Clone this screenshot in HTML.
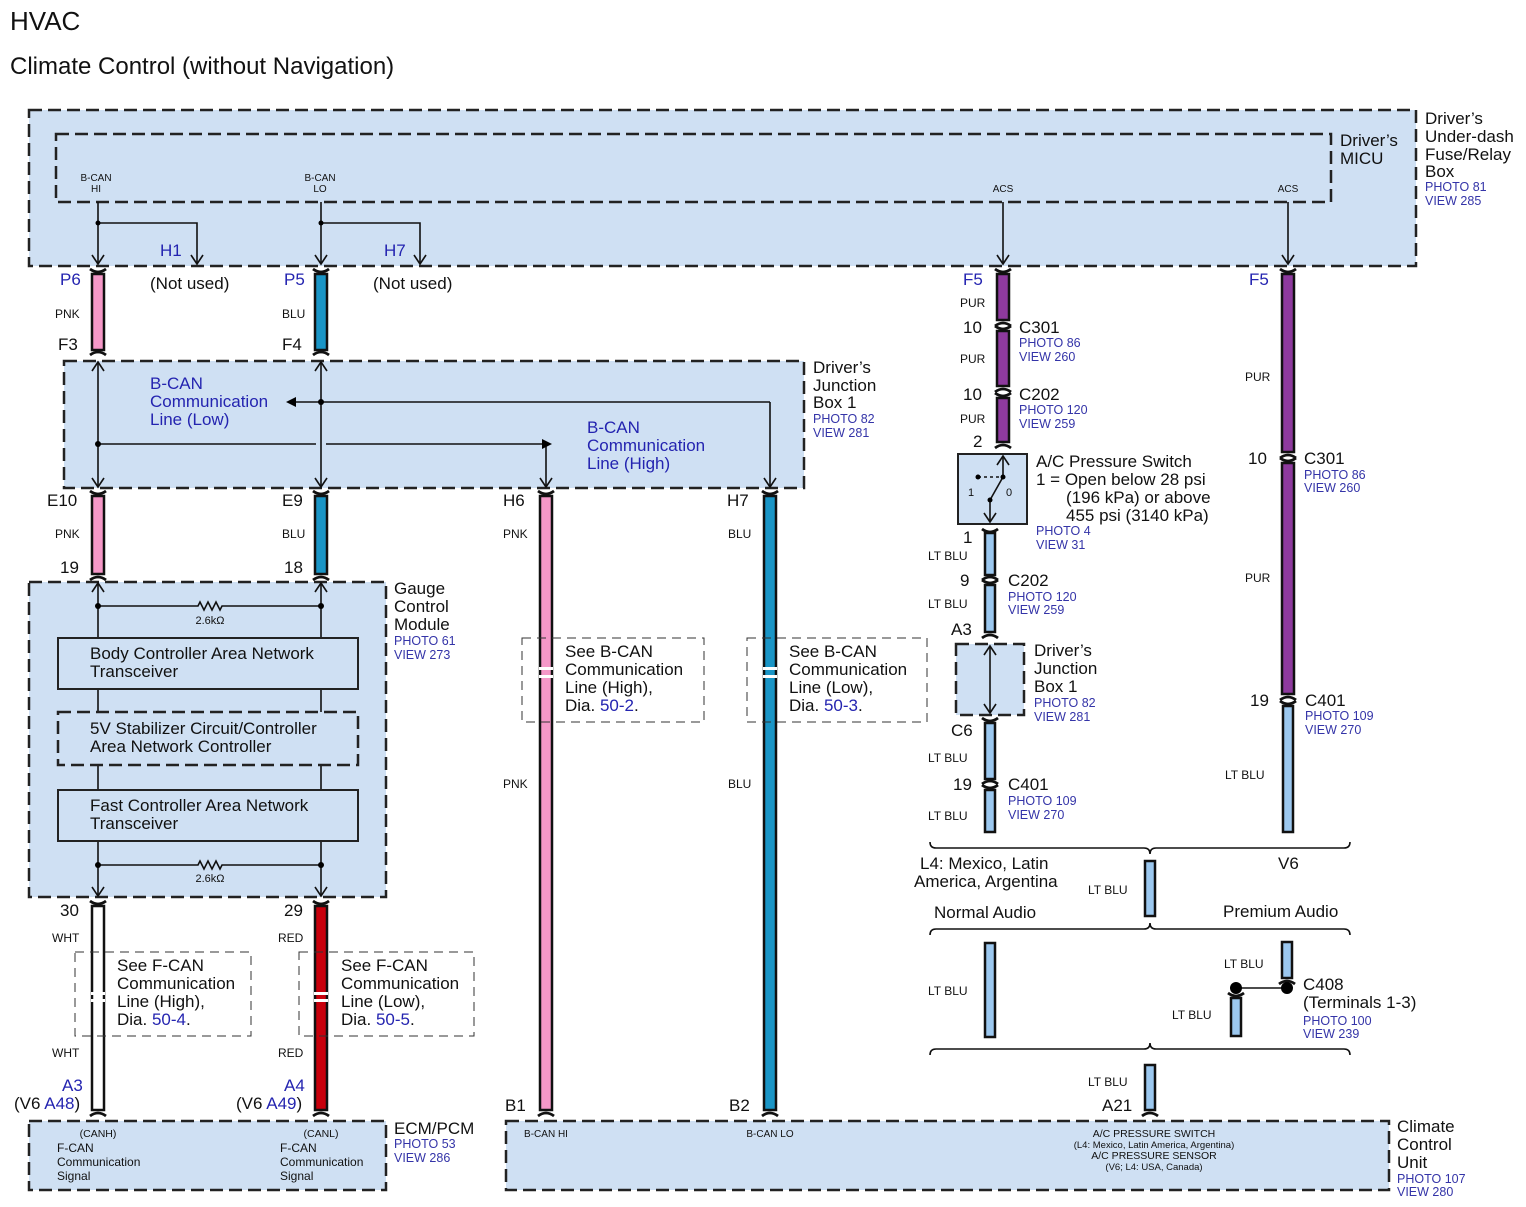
<!DOCTYPE html>
<html><head><meta charset="utf-8"><style>
html,body{margin:0;padding:0;background:#fff}
svg{display:block}
text{font-family:"Liberation Sans",sans-serif;fill:#111}
.b{fill:#2424b0}.p{fill:#3434a8;font-size:12.5px}
.s{font-size:12px}.m{font-size:17px}.t{font-size:10.5px}
.box{fill:#cfe0f3;stroke:#222;stroke-width:2.5;stroke-dasharray:13,6}
.sb{fill:none;stroke:#333;stroke-width:1;stroke-dasharray:9,6}
.ln{stroke:#111;stroke-width:1.6;fill:none}
.w{stroke:#111;stroke-width:2.5}
.cap{fill:none;stroke:#111;stroke-width:2.8}
</style></head><body>
<svg width="1526" height="1207" viewBox="0 0 1526 1207" xmlns="http://www.w3.org/2000/svg">
<defs>
<path id="ct" d="M-8,-3 Q0,3 8,-3" class="cap"/>
<path id="cb" d="M-8,3 Q0,-3 8,3" class="cap"/>
<path id="ad" d="M-6,-9 L0,0 L6,-9" class="ln"/>
<path id="au" d="M-6,9 L0,0 L6,9" class="ln"/>
</defs>
<text x="10" y="30" style="font-size:26px">HVAC</text>
<text x="10" y="74" style="font-size:24px">Climate Control (without Navigation)</text>

<!-- top boxes -->
<rect class="box" x="29" y="110" width="1387" height="156"/>
<rect class="box" x="56" y="134" width="1275" height="68"/>
<text class="t" x="96" y="181" text-anchor="middle" style="font-size:10px">B-CAN</text>
<text class="t" x="96" y="192" text-anchor="middle" style="font-size:10px">HI</text>
<text class="t" x="320" y="181" text-anchor="middle" style="font-size:10px">B-CAN</text>
<text class="t" x="320" y="192" text-anchor="middle" style="font-size:10px">LO</text>
<text class="t" x="1003" y="192" text-anchor="middle" style="font-size:10px">ACS</text>
<text class="t" x="1288" y="192" text-anchor="middle" style="font-size:10px">ACS</text>
<text class="m" x="1340" y="146">Driver’s</text><text class="m" x="1340" y="164">MICU</text>
<text class="m" x="1425" y="124">Driver’s</text><text class="m" x="1425" y="142">Under-dash</text>
<text class="m" x="1425" y="160">Fuse/Relay</text><text class="m" x="1425" y="177">Box</text>
<text class="p" x="1425" y="191">PHOTO 81</text><text class="p" x="1425" y="205">VIEW 285</text>

<path class="ln" d="M98,202V264 M98,223H197V264 M321,202V264 M321,223H420V264 M1003,202V264 M1288,202V264"/>
<circle cx="98" cy="223" r="2.5"/><circle cx="321" cy="223" r="2.5"/>
<use href="#ad" x="98" y="264"/><use href="#ad" x="197" y="264"/><use href="#ad" x="321" y="264"/><use href="#ad" x="420" y="264"/><use href="#ad" x="1003" y="264"/><use href="#ad" x="1288" y="264"/>
<text class="m b" x="160" y="256">H1</text><text class="m b" x="384" y="256">H7</text>

<!-- P6/P5 -->
<rect class="w" x="92" y="274" width="12" height="76" fill="#f598c8"/>
<rect class="w" x="315" y="274" width="12" height="76" fill="#1a95c6"/>
<use href="#ct" x="98" y="272"/><use href="#cb" x="98" y="352"/>
<use href="#ct" x="321" y="272"/><use href="#cb" x="321" y="352"/>
<text class="m b" x="60" y="285">P6</text><text class="m b" x="284" y="285">P5</text>
<text class="m" x="150" y="289">(Not used)</text><text class="m" x="373" y="289">(Not used)</text>
<text class="s" x="55" y="318">PNK</text><text class="s" x="282" y="318">BLU</text>
<text class="m" x="58" y="350">F3</text><text class="m" x="282" y="350">F4</text>

<!-- JB1 -->
<rect class="box" x="64" y="361" width="740" height="127"/>
<text class="m" x="813" y="373">Driver’s</text><text class="m" x="813" y="391">Junction</text><text class="m" x="813" y="408">Box 1</text>
<text class="p" x="813" y="423">PHOTO 82</text><text class="p" x="813" y="437">VIEW 281</text>
<path class="ln" d="M98,362V487 M321,362V487 M98,444H316 M326,444H546V487 M770,402H290 M770,402V487"/>
<use href="#au" x="98" y="362"/><use href="#ad" x="98" y="487"/><use href="#au" x="321" y="362"/><use href="#ad" x="321" y="487"/>
<use href="#ad" x="546" y="487"/><use href="#ad" x="770" y="487"/>
<path d="M552,444 L542,439 L542,449Z"/><path d="M286,402 L296,397 L296,407Z"/>
<circle cx="98" cy="444" r="3"/><circle cx="321" cy="402" r="3"/>
<text class="m b" x="150" y="389">B-CAN</text><text class="m b" x="150" y="407">Communication</text><text class="m b" x="150" y="425">Line (Low)</text>
<text class="m b" x="587" y="433">B-CAN</text><text class="m b" x="587" y="451">Communication</text><text class="m b" x="587" y="469">Line (High)</text>

<!-- E10/E9 -->
<rect class="w" x="92" y="496" width="12" height="78" fill="#f598c8"/>
<rect class="w" x="315" y="496" width="12" height="78" fill="#1a95c6"/>
<use href="#ct" x="98" y="494"/><use href="#cb" x="98" y="577"/><use href="#ct" x="321" y="494"/><use href="#cb" x="321" y="577"/>
<text class="m" x="47" y="506">E10</text><text class="m" x="282" y="506">E9</text>
<text class="s" x="55" y="538">PNK</text><text class="s" x="282" y="538">BLU</text>
<text class="m" x="60" y="573">19</text><text class="m" x="284" y="573">18</text>

<!-- H6/H7 long wires -->
<rect class="w" x="540" y="496" width="12" height="614" fill="#f598c8"/>
<rect class="w" x="764" y="496" width="12" height="614" fill="#1a95c6"/>
<use href="#ct" x="546" y="494"/><use href="#cb" x="546" y="1113"/><use href="#ct" x="770" y="494"/><use href="#cb" x="770" y="1113"/>
<rect x="539" y="667" width="14" height="3" fill="#fff"/><rect x="539" y="675" width="14" height="3" fill="#fff"/>
<rect x="763" y="667" width="14" height="3" fill="#fff"/><rect x="763" y="675" width="14" height="3" fill="#fff"/>
<text class="m" x="503" y="506">H6</text><text class="m" x="727" y="506">H7</text>
<text class="s" x="503" y="538">PNK</text><text class="s" x="728" y="538">BLU</text>
<text class="s" x="503" y="788">PNK</text><text class="s" x="728" y="788">BLU</text>
<rect class="sb" x="522" y="638" width="182" height="84"/><rect class="sb" x="747" y="638" width="180" height="84"/>
<text class="m" x="565" y="657">See B-CAN</text><text class="m" x="565" y="675">Communication</text><text class="m" x="565" y="693">Line (High),</text><text class="m" x="565" y="711">Dia.  <tspan class="b">50-2</tspan>.</text>
<text class="m" x="789" y="657">See B-CAN</text><text class="m" x="789" y="675">Communication</text><text class="m" x="789" y="693">Line (Low),</text><text class="m" x="789" y="711">Dia.  <tspan class="b">50-3</tspan>.</text>
<text class="m" x="505" y="1111">B1</text><text class="m" x="729" y="1111">B2</text>

<!-- Gauge -->
<rect class="box" x="29" y="582" width="357" height="315"/>
<text class="m" x="394" y="594">Gauge</text><text class="m" x="394" y="612">Control</text><text class="m" x="394" y="630">Module</text>
<text class="p" x="394" y="645">PHOTO 61</text><text class="p" x="394" y="659">VIEW 273</text>
<path class="ln" d="M98,583V638 M321,583V638 M98,689V712 M321,689V712 M98,765V790 M321,765V790 M98,841V896 M321,841V896"/>
<use href="#au" x="98" y="583"/><use href="#au" x="321" y="583"/><use href="#ad" x="98" y="896"/><use href="#ad" x="321" y="896"/>
<path class="ln" d="M98,606H198 l2,-4 l4,8 l4,-8 l4,8 l4,-8 l4,8 l2,-4 H321 M98,865H198 l2,-4 l4,8 l4,-8 l4,8 l4,-8 l4,8 l2,-4 H321"/>
<circle cx="98" cy="606" r="3"/><circle cx="321" cy="606" r="3"/><circle cx="98" cy="865" r="3"/><circle cx="321" cy="865" r="3"/>
<text x="210" y="624" text-anchor="middle" style="font-size:11px">2.6kΩ</text><text x="210" y="882" text-anchor="middle" style="font-size:11px">2.6kΩ</text>
<rect x="58" y="638" width="300" height="51" fill="#cfe0f3" stroke="#222" stroke-width="2"/>
<rect x="58" y="712" width="300" height="53" fill="#cfe0f3" stroke="#222" stroke-width="2.5" stroke-dasharray="13,6"/>
<rect x="58" y="790" width="300" height="51" fill="#cfe0f3" stroke="#222" stroke-width="2"/>
<text class="m" x="90" y="659">Body Controller Area Network</text><text class="m" x="90" y="677">Transceiver</text>
<text class="m" x="90" y="734">5V Stabilizer Circuit/Controller</text><text class="m" x="90" y="752">Area Network Controller</text>
<text class="m" x="90" y="811">Fast Controller Area Network</text><text class="m" x="90" y="829">Transceiver</text>

<!-- 30/29 -->
<rect class="w" x="92" y="906" width="12" height="204" fill="#fff"/>
<rect class="w" x="315" y="906" width="12" height="204" fill="#c8000c"/>
<use href="#ct" x="98" y="904"/><use href="#cb" x="98" y="1113"/><use href="#ct" x="321" y="904"/><use href="#cb" x="321" y="1113"/>
<rect x="91" y="992" width="14" height="3" fill="#fff"/><rect x="91" y="999" width="14" height="3" fill="#fff"/>
<rect x="314" y="992" width="14" height="3" fill="#fff"/><rect x="314" y="999" width="14" height="3" fill="#fff"/>
<text class="m" x="60" y="916">30</text><text class="m" x="284" y="916">29</text>
<text class="s" x="52" y="942">WHT</text><text class="s" x="52" y="1057">WHT</text>
<text class="s" x="278" y="942">RED</text><text class="s" x="278" y="1057">RED</text>
<rect class="sb" x="75" y="952" width="176" height="84"/><rect class="sb" x="299" y="952" width="175" height="84"/>
<text class="m" x="117" y="971">See F-CAN</text><text class="m" x="117" y="989">Communication</text><text class="m" x="117" y="1007">Line (High),</text><text class="m" x="117" y="1025">Dia.  <tspan class="b">50-4</tspan>.</text>
<text class="m" x="341" y="971">See F-CAN</text><text class="m" x="341" y="989">Communication</text><text class="m" x="341" y="1007">Line (Low),</text><text class="m" x="341" y="1025">Dia.  <tspan class="b">50-5</tspan>.</text>
<text class="m b" x="62" y="1091">A3</text><text class="m" x="14" y="1109">(V6 <tspan class="b">A48</tspan>)</text>
<text class="m b" x="284" y="1091">A4</text><text class="m" x="236" y="1109">(V6 <tspan class="b">A49</tspan>)</text>

<!-- ECM -->
<rect class="box" x="29" y="1121" width="357" height="69"/>
<text class="t" x="98" y="1137" text-anchor="middle">(CANH)</text>
<text class="s" x="57" y="1152">F-CAN</text><text class="s" x="57" y="1166">Communication</text><text class="s" x="57" y="1180">Signal</text>
<text class="t" x="321" y="1137" text-anchor="middle">(CANL)</text>
<text class="s" x="280" y="1152">F-CAN</text><text class="s" x="280" y="1166">Communication</text><text class="s" x="280" y="1180">Signal</text>
<text class="m" x="394" y="1134">ECM/PCM</text><text class="p" x="394" y="1148">PHOTO 53</text><text class="p" x="394" y="1162">VIEW 286</text>

<!-- CCU -->
<rect class="box" x="506" y="1121" width="883" height="69"/>
<text class="t" x="546" y="1137" text-anchor="middle" style="font-size:10px">B-CAN HI</text>
<text class="t" x="770" y="1137" text-anchor="middle" style="font-size:10px">B-CAN LO</text>
<text x="1154" y="1137" text-anchor="middle" style="font-size:10.5px">A/C PRESSURE SWITCH</text>
<text x="1154" y="1148" text-anchor="middle" style="font-size:9.5px">(L4: Mexico, Latin America, Argentina)</text>
<text x="1154" y="1159" text-anchor="middle" style="font-size:10.5px">A/C PRESSURE SENSOR</text>
<text x="1154" y="1170" text-anchor="middle" style="font-size:9.5px">(V6; L4: USA, Canada)</text>
<text class="m" x="1397" y="1132">Climate</text><text class="m" x="1397" y="1150">Control</text><text class="m" x="1397" y="1168">Unit</text>
<text class="p" x="1397" y="1183">PHOTO 107</text><text class="p" x="1397" y="1196">VIEW 280</text>

<!-- right column 1003 -->
<rect class="w" x="997" y="274" width="12" height="46" fill="#8e3a9e"/>
<rect class="w" x="997" y="331" width="12" height="55" fill="#8e3a9e"/>
<rect class="w" x="997" y="398" width="12" height="44" fill="#8e3a9e"/>
<use href="#ct" x="1003" y="272"/><use href="#cb" x="1003" y="323"/><use href="#ct" x="1003" y="329"/>
<use href="#cb" x="1003" y="389"/><use href="#ct" x="1003" y="396"/><use href="#cb" x="1003" y="445"/>
<text class="m b" x="963" y="285">F5</text>
<text class="s" x="960" y="307">PUR</text><text class="s" x="960" y="363">PUR</text><text class="s" x="960" y="423">PUR</text>
<text class="m" x="963" y="333">10</text><text class="m" x="1019" y="333">C301</text><text class="p" x="1019" y="347">PHOTO 86</text><text class="p" x="1019" y="361">VIEW 260</text>
<text class="m" x="963" y="400">10</text><text class="m" x="1019" y="400">C202</text><text class="p" x="1019" y="414">PHOTO 120</text><text class="p" x="1019" y="428">VIEW 259</text>
<text class="m" x="973" y="447">2</text>
<rect x="958" y="454" width="69" height="70" fill="#cfe0f3" stroke="#222" stroke-width="2"/>
<path class="ln" d="M1003,456V477 M1003,477L990,500 M990,500V522"/>
<path class="ln" d="M978,477H1003" stroke-dasharray="3,3"/>
<use href="#au" x="1003" y="456"/><use href="#ad" x="990" y="522"/>
<circle cx="978" cy="477" r="2.5"/><circle cx="1003" cy="477" r="2.5"/><circle cx="990" cy="500" r="2.5"/>
<text x="968" y="496" style="font-size:11px">1</text><text x="1006" y="496" style="font-size:11px">0</text>
<text class="m" x="1036" y="467">A/C Pressure Switch</text><text class="m" x="1036" y="485">1 = Open below 28 psi</text>
<text class="m" x="1066" y="503">(196 kPa) or above</text><text class="m" x="1066" y="521">455 psi (3140 kPa)</text>
<text class="p" x="1036" y="535">PHOTO 4</text><text class="p" x="1036" y="549">VIEW 31</text>

<rect class="w" x="985" y="533" width="10" height="42" fill="#9cc8ef"/>
<rect class="w" x="985" y="585" width="10" height="47" fill="#9cc8ef"/>
<rect class="w" x="985" y="723" width="10" height="56" fill="#9cc8ef"/>
<rect class="w" x="985" y="790" width="10" height="42" fill="#9cc8ef"/>
<use href="#ct" x="990" y="532"/><use href="#cb" x="990" y="577"/><use href="#ct" x="990" y="583"/><use href="#cb" x="990" y="635"/>
<use href="#ct" x="990" y="721"/><use href="#cb" x="990" y="781"/><use href="#ct" x="990" y="788"/>
<text class="m" x="963" y="543">1</text><text class="s" x="928" y="560">LT BLU</text>
<text class="m" x="960" y="586">9</text><text class="m" x="1008" y="586">C202</text><text class="p" x="1008" y="601">PHOTO 120</text><text class="p" x="1008" y="614">VIEW 259</text>
<text class="s" x="928" y="608">LT BLU</text><text class="m" x="951" y="635">A3</text>
<rect class="box" x="956" y="644" width="68" height="71"/>
<path class="ln" d="M990,646V713"/><use href="#au" x="990" y="646"/><use href="#ad" x="990" y="713"/>
<text class="m" x="1034" y="656">Driver’s</text><text class="m" x="1034" y="674">Junction</text><text class="m" x="1034" y="692">Box 1</text>
<text class="p" x="1034" y="707">PHOTO 82</text><text class="p" x="1034" y="721">VIEW 281</text>
<text class="m" x="951" y="736">C6</text><text class="s" x="928" y="762">LT BLU</text>
<text class="m" x="953" y="790">19</text><text class="m" x="1008" y="790">C401</text><text class="p" x="1008" y="805">PHOTO 109</text><text class="p" x="1008" y="819">VIEW 270</text>
<text class="s" x="928" y="820">LT BLU</text>

<!-- right column 1288 -->
<rect class="w" x="1282" y="274" width="12" height="178" fill="#8e3a9e"/>
<rect class="w" x="1282" y="463" width="12" height="231" fill="#8e3a9e"/>
<rect class="w" x="1283" y="706" width="10" height="126" fill="#9cc8ef"/>
<use href="#ct" x="1288" y="272"/><use href="#cb" x="1288" y="455"/><use href="#ct" x="1288" y="461"/>
<use href="#cb" x="1288" y="697"/><use href="#ct" x="1288" y="704"/>
<text class="m b" x="1249" y="285">F5</text><text class="s" x="1245" y="381">PUR</text><text class="s" x="1245" y="582">PUR</text>
<text class="m" x="1248" y="464">10</text><text class="m" x="1304" y="464">C301</text><text class="p" x="1304" y="479">PHOTO 86</text><text class="p" x="1304" y="492">VIEW 260</text>
<text class="m" x="1250" y="706">19</text><text class="m" x="1305" y="706">C401</text><text class="p" x="1305" y="720">PHOTO 109</text><text class="p" x="1305" y="734">VIEW 270</text>
<text class="s" x="1225" y="779">LT BLU</text>

<!-- brackets -->
<path class="ln" stroke-width="2" d="M930,842 Q930,848 936,848 H1144 Q1150,848 1150,854 Q1150,848 1156,848 H1344 Q1350,848 1350,842"/>
<path class="ln" stroke-width="2" d="M930,935 Q930,929 936,929 H1144 Q1150,929 1150,923 Q1150,929 1156,929 H1344 Q1350,929 1350,935"/>
<path class="ln" stroke-width="2" d="M930,1055 Q930,1049 936,1049 H1144 Q1150,1049 1150,1043 Q1150,1049 1156,1049 H1344 Q1350,1049 1350,1055"/>
<text class="m" x="920" y="869">L4: Mexico, Latin</text><text class="m" x="914" y="887">America, Argentina</text>
<text class="m" x="1278" y="869">V6</text>
<rect class="w" x="1145" y="861" width="10" height="55" fill="#9cc8ef"/>
<text class="s" x="1088" y="894">LT BLU</text>
<text class="m" x="934" y="918">Normal Audio</text><text class="m" x="1223" y="917">Premium Audio</text>
<rect class="w" x="985" y="943" width="10" height="94" fill="#9cc8ef"/>
<text class="s" x="928" y="995">LT BLU</text>
<rect class="w" x="1282" y="942" width="10" height="36" fill="#9cc8ef"/>
<use href="#cb" x="1287" y="981"/>
<rect class="w" x="1231" y="998" width="10" height="38" fill="#9cc8ef"/>
<use href="#ct" x="1236" y="996"/>
<path class="ln" d="M1236,988H1287"/><circle cx="1236" cy="988" r="6"/><circle cx="1287" cy="988" r="6"/>
<text class="s" x="1224" y="968">LT BLU</text><text class="s" x="1172" y="1019">LT BLU</text>
<text class="m" x="1303" y="990">C408</text><text class="m" x="1303" y="1008">(Terminals 1-3)</text>
<text class="p" x="1303" y="1025">PHOTO 100</text><text class="p" x="1303" y="1038">VIEW 239</text>
<rect class="w" x="1145" y="1065" width="10" height="45" fill="#9cc8ef"/>
<use href="#cb" x="1150" y="1113"/>
<text class="s" x="1088" y="1086">LT BLU</text><text class="m" x="1102" y="1111">A21</text>
</svg>
</body></html>
